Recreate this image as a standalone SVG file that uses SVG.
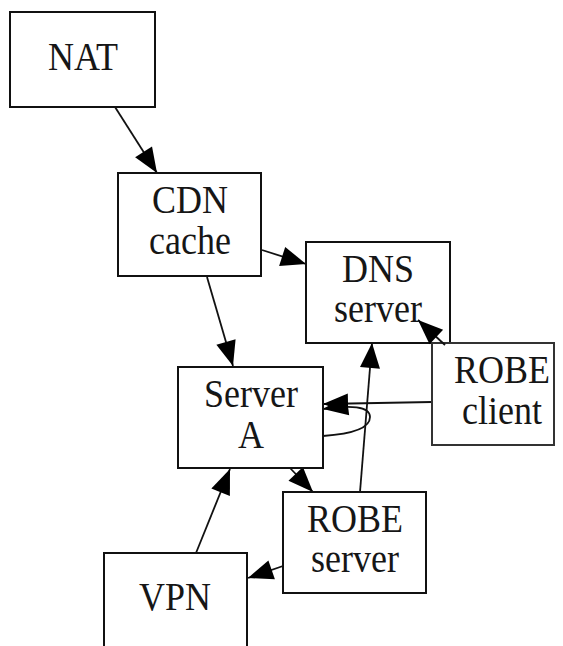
<svg xmlns="http://www.w3.org/2000/svg" width="563" height="646" viewBox="0 0 563 646">
<style>
.box{fill:#fff;stroke:#111;stroke-width:2}
.lbl{font-family:"Liberation Serif","Times New Roman",serif;font-size:36px;fill:#161616;text-anchor:middle}
.edge{fill:none;stroke:#111;stroke-width:1.8}
</style>
<defs>
<marker id="ah" markerUnits="userSpaceOnUse" markerWidth="28" markerHeight="22" refX="25" refY="10" orient="auto" overflow="visible">
<path d="M0,0 L25,10 L0,20 z" fill="#000"/>
</marker>
</defs>
<rect width="563" height="646" fill="#fff"/>
<g id="edges">
<line class="edge" x1="115" y1="107" x2="157" y2="173" marker-end="url(#ah)"/>
<line class="edge" x1="262" y1="250" x2="306" y2="264" marker-end="url(#ah)"/>
<line class="edge" x1="207" y1="277" x2="233" y2="366" marker-end="url(#ah)"/>
<line class="edge" x1="360" y1="492" x2="372" y2="343" marker-end="url(#ah)"/>
<line class="edge" x1="432" y1="402" x2="323" y2="404" marker-end="url(#ah)"/>
<path class="edge" d="M323,436 C352,434 370,428 370,417 C370,406 350,405 323,409" marker-end="url(#ah)"/>
<line class="edge" x1="196" y1="553" x2="230" y2="469" marker-end="url(#ah)"/>
<line class="edge" x1="290" y1="468" x2="313" y2="492" marker-end="url(#ah)"/>
<line class="edge" x1="283" y1="566" x2="248" y2="578" marker-end="url(#ah)"/>
</g>
<g id="NAT">
<rect class="box" x="10" y="12" width="145" height="95"/>
<text class="lbl" transform="translate(83,70) scale(1,1.1)">NAT</text>
</g>
<g id="CDN">
<rect class="box" x="118" y="173" width="143" height="103"/>
<text class="lbl" transform="translate(190,213) scale(1,1.1)">CDN</text>
<text class="lbl" transform="translate(190,254) scale(1,1.1)">cache</text>
</g>
<g id="DNS">
<rect class="box" x="306" y="242" width="144" height="101"/>
<text class="lbl" transform="translate(378,282) scale(1,1.1)">DNS</text>
<text class="lbl" transform="translate(378,322) scale(1,1.1)">server</text>
</g>
<g id="ServerA">
<rect class="box" x="178" y="367" width="145" height="101"/>
<text class="lbl" transform="translate(251,407) scale(1,1.1)">Server</text>
<text class="lbl" transform="translate(251,448) scale(1,1.1)">A</text>
</g>
<g id="ROBEclient">
<rect class="box" x="432" y="343" width="122" height="102" style="stroke:#333"/>
<text class="lbl" transform="translate(502,383) scale(1,1.1)">ROBE</text>
<text class="lbl" transform="translate(502,424) scale(1,1.1)">client</text>
</g>
<g id="ROBEserver">
<rect class="box" x="283" y="492" width="143" height="101"/>
<text class="lbl" transform="translate(355,532) scale(1,1.1)">ROBE</text>
<text class="lbl" transform="translate(355,572) scale(1,1.1)">server</text>
</g>
<g id="VPN">
<rect class="box" x="104" y="553" width="143" height="100"/>
<text class="lbl" transform="translate(175,610) scale(1,1.1)">VPN</text>
</g>
<g id="edges-over">
<path d="M445,345 L418,320" class="edge" marker-end="url(#ah)"/>
</g>
</svg>
